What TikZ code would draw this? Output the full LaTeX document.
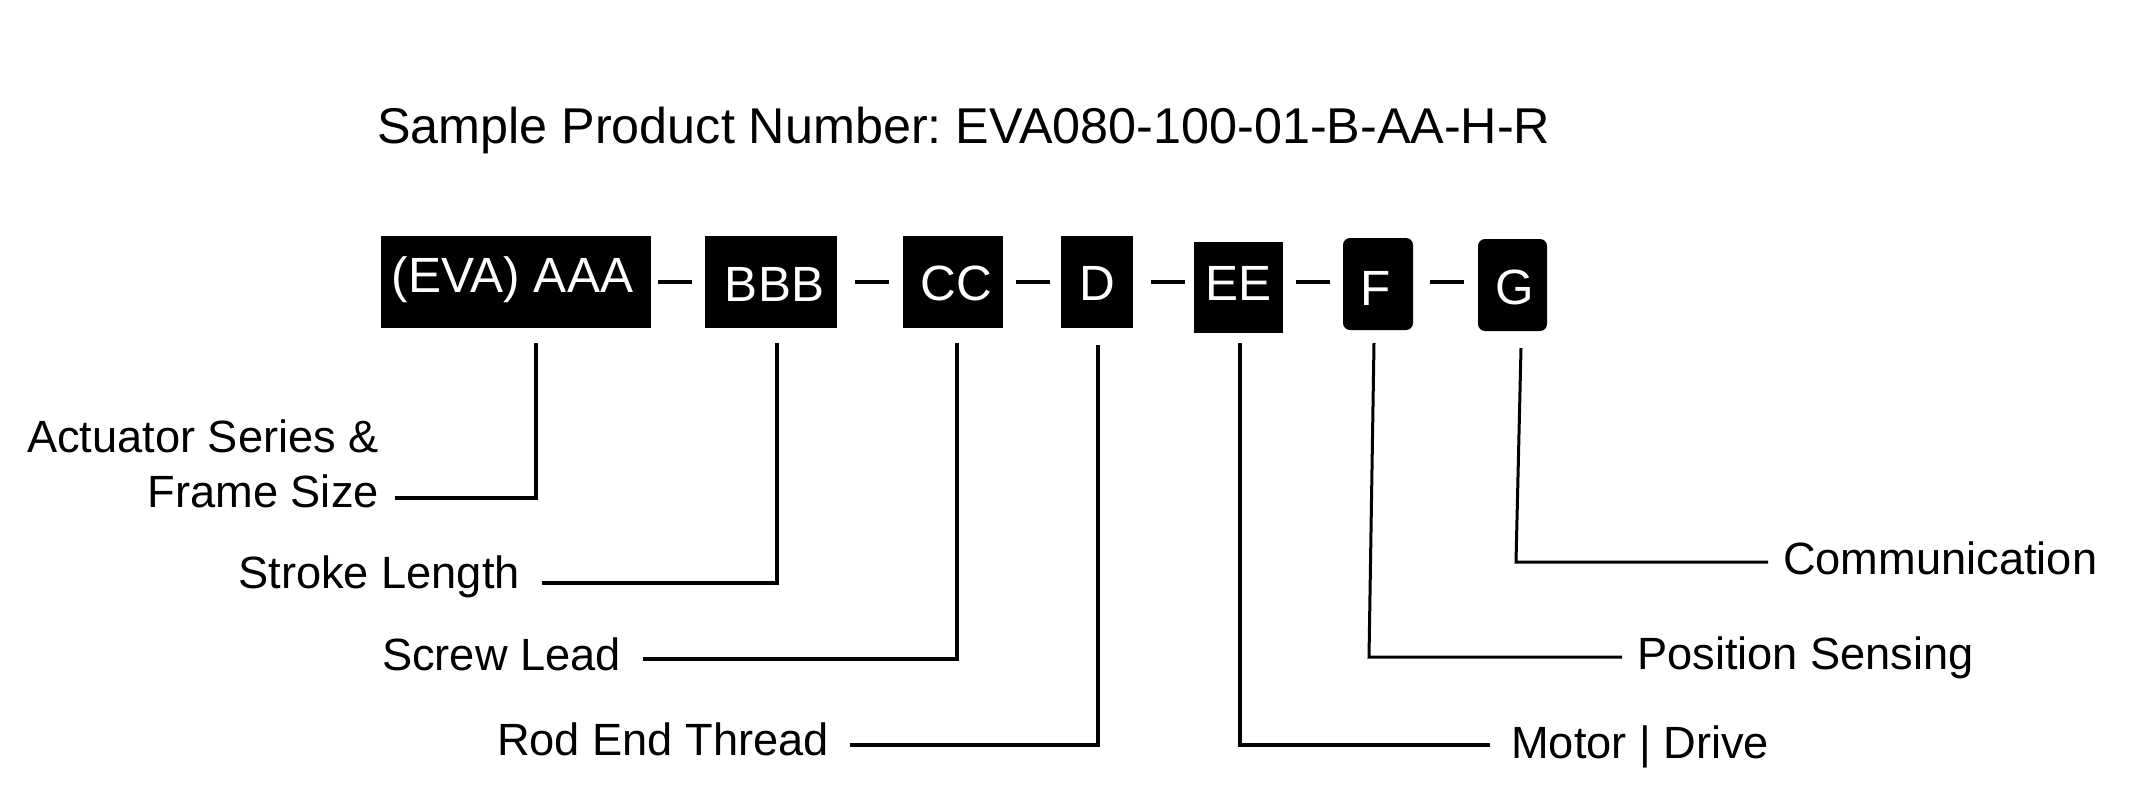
\documentclass[tikz,border=0pt]{standalone}
\usepackage{fontspec}
\setmainfont{Liberation Sans}
\frenchspacing
\newcommand\boxfont{\fontsize{49.5}{58}\selectfont}
\newcommand\labfont{\fontsize{45.2}{54}\selectfont}
\newcommand\titlefont{\fontsize{50.3}{60}\selectfont}
\tikzset{
  box/.style={fill=black, text=white, inner sep=0pt, font=\boxfont, text depth=0pt},
  lab/.style={inner sep=0pt, font=\labfont},
  conn/.style={line width=3.4pt},
  connthin/.style={line width=3pt},
  dashbar/.style={fill=black, inner sep=0pt, minimum width=34pt, minimum height=4pt},
}
\begin{document}
\begin{tikzpicture}[x=1pt, y=-1pt]
\useasboundingbox (0,0) rectangle (2136,808);

% title
\node[inner sep=0pt, font=\titlefont, anchor=base west] (title) at (377,143) {Sample Product Number: EVA080-100-01-B-AA-H-R};

% code boxes
\node[box, minimum width=270pt, minimum height=92pt, text height=20pt] (bA) at (516,282) {(EVA) AAA\hspace*{7pt}};
\node[box, minimum width=132pt, minimum height=92pt, text height=38pt] (bB) at (771,282) {\hspace*{7pt}BBB};
\node[box, minimum width=100pt, minimum height=92pt, text height=36pt] (bC) at (953,282) {\hspace*{7pt}CC};
\node[box, minimum width=72pt, minimum height=92pt, text height=36pt] (bD) at (1097,282) {D};
\node[box, minimum width=89pt, minimum height=91pt, text height=25pt] (bE) at (1238.5,287.5) {EE};
\node[box, minimum width=70pt, minimum height=92pt, text height=42pt, rounded corners=7pt] (bF) at (1378,284) {F\hspace*{5pt}};
\node[box, minimum width=69pt, minimum height=92pt, text height=38pt, rounded corners=7pt] (bG) at (1512.5,285) {\hspace*{4pt}G};

% separating dashes
\node[dashbar] (d1) at (675,282) {};
\node[dashbar] (d2) at (871.5,282) {};
\node[dashbar] (d3) at (1033,282) {};
\node[dashbar] (d4) at (1167.5,282) {};
\node[dashbar] (d5) at (1313,282) {};
\node[dashbar] (d6) at (1447,282) {};

% labels
\node[lab, anchor=base east] (lA1) at (379,452) {Actuator Series \&};
\node[lab, anchor=base east] (lA2) at (379,507) {Frame Size};
\node[lab, anchor=base east] (lB) at (520,588) {Stroke Length};
\node[lab, anchor=base east] (lC) at (621,670) {Screw Lead};
\node[lab, anchor=base east] (lD) at (829,755) {Rod End Thread};
\node[lab, anchor=base west] (lE) at (1511,758) {Motor | Drive};
\node[lab, anchor=base west] (lF) at (1637,669) {Position Sensing};
\node[lab, anchor=base west] (lG) at (1783,574) {Communication};

% connector points
\coordinate (tA) at (536,343);  \coordinate (kA) at (536,498);
\coordinate (tB) at (777,343);  \coordinate (kB) at (777,583);
\coordinate (tC) at (957,343);  \coordinate (kC) at (957,659);
\coordinate (tD) at (1098,345); \coordinate (kD) at (1098,745);
\coordinate (tE) at (1240,343); \coordinate (kE) at (1240,745);
\coordinate (tF) at (1374,343); \coordinate (kF) at (1369,657);
\coordinate (tG) at (1521,348); \coordinate (kG) at (1516,562);

% connectors
\draw[conn] (tA) -- (kA) -- ([xshift=16pt]lA2.east |- kA);
\draw[conn] (tB) -- (kB) -- ([xshift=22pt]lB.east |- kB);
\draw[conn] (tC) -- (kC) -- ([xshift=22pt]lC.east |- kC);
\draw[conn] (tD) -- (kD) -- ([xshift=21pt]lD.east |- kD);
\draw[conn] (tE) -- (kE) -- ([xshift=-21pt]lE.west |- kE);
\draw[connthin] (tF) -- (kF) -- ([xshift=-15pt]lF.west |- kF);
\draw[connthin] (tG) -- (kG) -- ([xshift=-15pt]lG.west |- kG);
\end{tikzpicture}
\end{document}
